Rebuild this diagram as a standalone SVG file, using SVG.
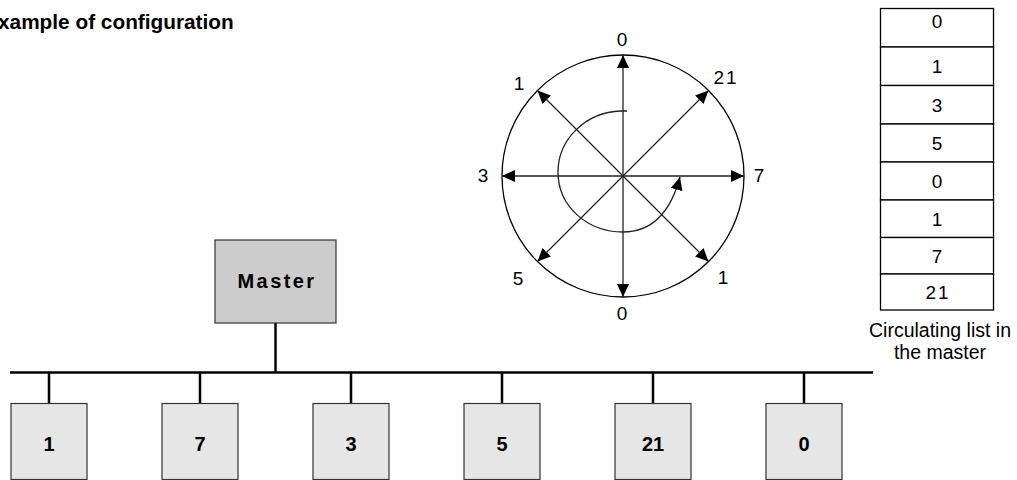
<svg xmlns="http://www.w3.org/2000/svg" width="1017" height="480" viewBox="0 0 1017 480">
<defs>
<style>
text{font-family:"Liberation Sans",Arial,sans-serif;fill:#000}
.lbl{font-size:19px;text-anchor:middle}
.bold{font-weight:bold;font-size:20px;text-anchor:middle}
.axis{stroke:#222;stroke-width:1.3;fill:none;marker-end:url(#ah)}
.box{fill:#e6e6e6;stroke:#333;stroke-width:1.2}
.wire{stroke:#000;stroke-width:2.5;fill:none}
.cell{fill:#fff;stroke:#000;stroke-width:1.3}
</style>
<marker id="ah" markerUnits="userSpaceOnUse" markerWidth="14" markerHeight="12" refX="13" refY="6" orient="auto">
<path d="M0,0 L13,6 L0,12 z" fill="#000"/>
</marker>
</defs>
<rect width="1017" height="480" fill="#fff"/>
<text id="title" x="-2" y="29" style="font-size:20.8px;font-weight:bold">xample of configuration</text>

<g id="ring">
<circle cx="623" cy="176" r="121" fill="none" stroke="#000" stroke-width="1.3"/>
<line class="axis" x1="623" y1="176" x2="623" y2="55"/>
<line class="axis" x1="623" y1="176" x2="623" y2="297"/>
<line class="axis" x1="623" y1="176" x2="502" y2="176"/>
<line class="axis" x1="623" y1="176" x2="744" y2="176"/>
<line class="axis" x1="623" y1="176" x2="537.5" y2="90.5"/>
<line class="axis" x1="623" y1="176" x2="708.5" y2="90.5"/>
<line class="axis" x1="623" y1="176" x2="537.5" y2="261.5"/>
<line class="axis" x1="623" y1="176" x2="708.5" y2="261.5"/>
<path class="axis" stroke="#000" d="M627,111 L621,111 C585,112 558,140 558,172 C558,207 588,232 623,232 C650,232 670,214 680,177"/>
<text class="lbl" x="622" y="45.5">0</text>
<text class="lbl" x="726" y="83.5" style="letter-spacing:2px">21</text>
<text class="lbl" x="519" y="89.5">1</text>
<text class="lbl" x="483" y="182">3</text>
<text class="lbl" x="759" y="182">7</text>
<text class="lbl" x="518" y="285">5</text>
<text class="lbl" x="723" y="284">1</text>
<text class="lbl" x="622" y="320">0</text>
</g>

<g id="list">
<rect class="cell" x="880.5" y="8.5" width="113" height="38.5"/>
<rect class="cell" x="880.5" y="47" width="113" height="38.5"/>
<rect class="cell" x="880.5" y="85.5" width="113" height="38.5"/>
<rect class="cell" x="880.5" y="124" width="113" height="38"/>
<rect class="cell" x="880.5" y="162" width="113" height="38"/>
<rect class="cell" x="880.5" y="200" width="113" height="37.5"/>
<rect class="cell" x="880.5" y="237.5" width="113" height="36.5"/>
<rect class="cell" x="880.5" y="274" width="113" height="36"/>
<text class="lbl" x="937" y="28">0</text>
<text class="lbl" x="937" y="73">1</text>
<text class="lbl" x="937" y="111.5">3</text>
<text class="lbl" x="937" y="149.5">5</text>
<text class="lbl" x="937" y="187.5">0</text>
<text class="lbl" x="937" y="225.5">1</text>
<text class="lbl" x="937" y="262.5">7</text>
<text class="lbl" x="938" y="298.5" style="letter-spacing:2px">21</text>
<text class="lbl" x="940" y="337" style="font-size:19.5px">Circulating list in</text>
<text class="lbl" x="940" y="358.5" style="font-size:19.5px">the master</text>
</g>

<g id="connectors">
<line class="wire" x1="10" y1="372.5" x2="873" y2="372.5"/>
<line class="wire" x1="275.5" y1="323" x2="275.5" y2="372.5"/>
<line class="wire" x1="49" y1="372.5" x2="49" y2="403"/>
<line class="wire" x1="200" y1="372.5" x2="200" y2="403"/>
<line class="wire" x1="351" y1="372.5" x2="351" y2="403"/>
<line class="wire" x1="502" y1="372.5" x2="502" y2="403"/>
<line class="wire" x1="653" y1="372.5" x2="653" y2="403"/>
<line class="wire" x1="804" y1="372.5" x2="804" y2="403"/>
</g>

<g id="master">
<rect x="215" y="240" width="121" height="83" fill="#cccccc" stroke="#333" stroke-width="1.2"/>
<text class="bold" x="277" y="288" style="letter-spacing:2.4px">Master</text>
</g>
<g id="node1"><rect class="box" x="11" y="403.5" width="76" height="76"/><text class="bold" x="49" y="451">1</text></g>
<g id="node7"><rect class="box" x="162" y="403.5" width="76" height="76"/><text class="bold" x="200" y="451">7</text></g>
<g id="node3"><rect class="box" x="313" y="403.5" width="76" height="76"/><text class="bold" x="351" y="451">3</text></g>
<g id="node5"><rect class="box" x="464" y="403.5" width="76" height="76"/><text class="bold" x="502" y="451">5</text></g>
<g id="node21"><rect class="box" x="615" y="403.5" width="76" height="76"/><text class="bold" x="653" y="451">21</text></g>
<g id="node0"><rect class="box" x="766" y="403.5" width="76" height="76"/><text class="bold" x="804" y="451">0</text></g>
</svg>
